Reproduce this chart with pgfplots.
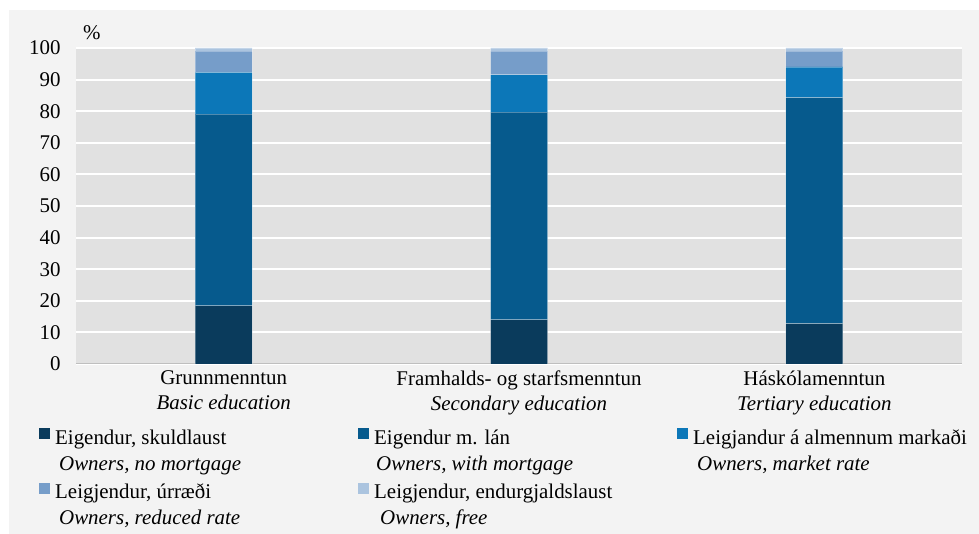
\documentclass[border=0pt]{standalone}
\usepackage{pgfplots}
\pgfplotsset{compat=1.18}
\usepackage{fontspec}
\setmainfont{Liberation Serif}
\definecolor{c1}{HTML}{0A3B5C}
\definecolor{c2}{HTML}{065A8D}
\definecolor{c3}{HTML}{0C77B8}
\definecolor{c4}{HTML}{769DC9}
\definecolor{c5}{HTML}{ABC4DF}
\definecolor{plotbg}{HTML}{E1E1E1}
\definecolor{outerbg}{HTML}{F3F3F3}
\newcommand{\fs}{\fontsize{21}{25}\selectfont}
\begin{document}
\begin{tikzpicture}[x=1bp,y=1bp]
\fill[white] (-76,-170) rectangle (903,364);
\fill[outerbg] (-67,-170) rectangle (903,354);
\begin{axis}[
  at={(0,0)}, anchor=south west,
  scale only axis, width=886bp, height=316bp,
  ybar stacked, bar width=57bp,
  xmin=-0.5, xmax=2.5, ymin=0, ymax=100,
  xtick=data,
  xticklabels={{Grunnmenntun\\\textit{Basic education}},{Framhalds- og starfsmenntun\\\textit{Secondary education}},{Háskólamenntun\\\textit{Tertiary education}}},
  ytick={0,10,...,100},
  major tick length=0pt,
  axis background/.style={fill=plotbg},
  ymajorgrids, grid style={white, line width=2bp},
  axis x line*=bottom, axis y line*=left,
  x axis line style={draw=black!25, line width=1bp, -},
  y axis line style={draw=none},
  /pgf/number format/assume math mode=true,
  ticklabel style={font=\fs},
  yticklabel style={xshift=-12bp},
  xticklabel style={align=center, yshift=-3.5bp},
  legend columns=3,
  legend cell align=left,
  legend style={draw=none, fill=none, font=\fs, at={(0,0)}, anchor=north west, xshift=-40bp, yshift=-62bp,
    nodes={inner sep=0pt}, row sep=37bp,
    /tikz/every odd column/.style={column sep=5bp}},
  legend image code/.code={\fill[#1,draw=none] (0bp,-1.5bp) rectangle (11bp,9.5bp);},
  every axis plot/.append style={draw=white, draw opacity=0.3, line width=0.8bp},
]
\addplot[fill=c1] coordinates {(0,18.4) (1,14.0) (2,12.8)};
\addplot[fill=c2] coordinates {(0,60.7) (1,65.7) (2,71.5)};
\addplot[fill=c3] coordinates {(0,13.2) (1,11.8) (2,9.7)};
\addplot[fill=c4] coordinates {(0,6.7) (1,7.5) (2,5.0)};
\addplot[fill=c5] coordinates {(0,1.0) (1,1.0) (2,1.0)};
\legend{
 \makebox[303bp][l]{\makebox[0pt][l]{\raisebox{-26bp}[0pt][0pt]{\hspace*{4bp}\textit{Owners, no mortgage}}}Eigendur, skuldlaust},
 \makebox[303bp][l]{\makebox[0pt][l]{\raisebox{-26bp}[0pt][0pt]{\hspace*{2bp}\textit{Owners, with mortgage}}}Eigendur m. lán},
 \makebox[260bp][l]{\makebox[0pt][l]{\raisebox{-26bp}[0pt][0pt]{\hspace*{4bp}\textit{Owners, market rate}}}Leigjandur á almennum markaði},
 \makebox[303bp][l]{\makebox[0pt][l]{\raisebox{-26bp}[0pt][0pt]{\hspace*{4bp}\textit{Owners, reduced rate}}}Leigjendur, úrræði},
 \makebox[303bp][l]{\makebox[0pt][l]{\raisebox{-26bp}[0pt][0pt]{\hspace*{6bp}\textit{Owners, free}}}Leigjendur, endurgjaldslaust}
}
\end{axis}
\node[anchor=base west, font=\fs, inner sep=0pt] at (7,324) {\%};
\end{tikzpicture}
\end{document}
